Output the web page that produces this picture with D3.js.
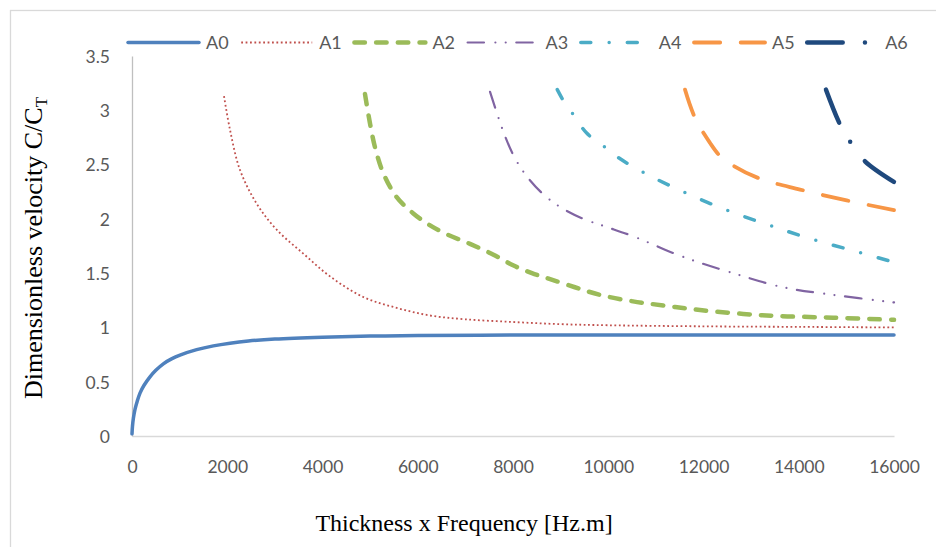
<!DOCTYPE html>
<html>
<head>
<meta charset="utf-8">
<script src="https://cdn.jsdelivr.net/npm/d3@7"></script>
<style>
  html, body { margin: 0; padding: 0; background: #fff; }
  svg { display: block; }
</style>
</head>
<body>
<svg id="chart" width="936" height="547"></svg>
<script>
// ---- data ----
const seriesNames = ["A0", "A1", "A2", "A3", "A4", "A5", "A6"];
const xTicks = [0, 2000, 4000, 6000, 8000, 10000, 12000, 14000, 16000];
const yTicks = [0, 0.5, 1, 1.5, 2, 2.5, 3, 3.5];

const a0X = [0, 10, 30, 63, 110, 168, 250, 378, 500, 658, 830, 1008, 1358, 1708, 2058, 2443, 3000, 4000, 5000, 6000, 8000, 10000, 12000, 14000, 16000];
const a0Y = [0.02, 0.09, 0.165, 0.245, 0.32, 0.395, 0.465, 0.545, 0.605, 0.665, 0.71, 0.745, 0.795, 0.83, 0.855, 0.875, 0.893, 0.91, 0.92, 0.925, 0.93, 0.93, 0.93, 0.93, 0.93];

const a1X = [1932, 2058, 2268, 2618, 3038, 3597, 4158, 4857, 5558, 6257, 7000, 8000, 9000, 10000, 12000, 14000, 16000];
const a1Y = [3.13, 2.82, 2.45, 2.14, 1.90, 1.68, 1.47, 1.28, 1.18, 1.11, 1.075, 1.05, 1.03, 1.02, 1.01, 1.005, 1.0];

const a2X = [4892, 4997, 5102, 5277, 5558, 5907, 6222, 6600, 7097, 7590, 8013, 8397, 8748, 9300, 9827, 10520, 11200, 11927, 13327, 14720, 16000];
const a2Y = [3.15, 2.88, 2.66, 2.42, 2.20, 2.05, 1.95, 1.86, 1.77, 1.67, 1.57, 1.50, 1.45, 1.37, 1.30, 1.24, 1.20, 1.16, 1.11, 1.09, 1.07];

const a3X = [7518, 7643, 7783, 7993, 8241, 8626, 8987, 9477, 9932, 10520, 11570, 12620, 13670, 14720, 16000];
const a3Y = [3.17, 3.0, 2.82, 2.60, 2.42, 2.23, 2.11, 2.0, 1.93, 1.84, 1.65, 1.50, 1.37, 1.30, 1.23];

const a4X = [8930, 9056, 9267, 9547, 9932, 10226, 10730, 11570, 12487, 13396, 14300, 15286, 16000];
const a4Y = [3.19, 3.09, 2.96, 2.79, 2.66, 2.56, 2.43, 2.25, 2.08, 1.94, 1.81, 1.69, 1.60];

const a5X = [11612, 11822, 12136, 12346, 12626, 13186, 14026, 15006, 16000];
const a5Y = [3.19, 2.93, 2.70, 2.58, 2.49, 2.37, 2.27, 2.17, 2.08];

const a6X = [14572, 14887, 15110, 15391, 16000];
const a6Y = [3.19, 2.85, 2.69, 2.53, 2.34];

const xValues = [a0X, a1X, a2X, a3X, a4X, a5X, a6X];
const yValues = [a0Y, a1Y, a2Y, a3Y, a4Y, a5Y, a6Y];

// ---- styles ----
const colors = ["#4F81BD", "#C0504D", "#9BBB59", "#8064A2", "#4BACC6", "#F79646", "#1F497D"];
const widths = [3.5, 1.8, 4.5, 2.2, 3.5, 3.8, 4.5];
const dashes = [null, "1.8,2.6", "10.5,11.2", "16.4,11.4,0,10.3,0,10.6", "10,18.35,0,18.15", "26.2,20.5", "35.5,22.25,0,24.25"];
const caps = ["round", "butt", "round", "round", "round", "round", "round"];

const svg = d3.select("#chart");

const x = d3.scaleLinear().domain([0, 16000]).range([132, 894]);
const y = d3.scaleLinear().domain([0, 3.5]).range([436, 56]);

// outer chart border
svg.append("rect")
  .attr("x", 10.5).attr("y", 10.5).attr("width", 1000).attr("height", 1000)
  .attr("fill", "none").attr("stroke", "#d9d9d9").attr("stroke-width", 1.3);

// axes
const tickFont = "Lato, 'Open Sans', sans-serif";
const xAxis = d3.axisBottom(x).tickValues(xTicks).tickSize(0).tickPadding(0).tickFormat(d3.format("d"));
const gx = svg.append("g").attr("transform", `translate(0,${y(0)})`).call(xAxis);
gx.select(".domain").attr("stroke", "#d9d9d9").attr("stroke-width", 1.5);
gx.selectAll("text")
  .attr("y", 37).attr("dy", null)
  .attr("fill", "#595959").style("font-family", tickFont).style("font-size", "17.5px");

const yAxis = d3.axisLeft(y).tickValues(yTicks).tickSize(0).tickPadding(0).tickFormat(d => String(d));
const gy = svg.append("g").attr("transform", `translate(${x(0)},0)`).call(yAxis);
gy.select(".domain").attr("stroke", "#bfbfbf").attr("stroke-width", 1.3);
gy.selectAll("text")
  .attr("x", -22).attr("dy", "0.36em")
  .attr("fill", "#595959").style("font-family", tickFont).style("font-size", "17.5px");

// series
const line = d3.line().x(d => x(d[0])).y(d => y(d[1])).curve(d3.curveCatmullRom.alpha(0.5));
seriesNames.forEach((name, i) => {
  const pts = xValues[i].map((xv, j) => [xv, yValues[i][j]]);
  svg.append("path")
    .datum(pts)
    .attr("d", line)
    .attr("fill", "none")
    .attr("stroke", colors[i])
    .attr("stroke-width", widths[i])
    .attr("stroke-linecap", caps[i])
    .attr("stroke-linejoin", "round")
    .attr("stroke-dasharray", dashes[i]);
});

// legend
const legend = svg.append("g");
seriesNames.forEach((name, i) => {
  const lx = 128 + i * 113.2;
  legend.append("line")
    .attr("x1", lx).attr("x2", lx + 71).attr("y1", 42.5).attr("y2", 42.5)
    .attr("stroke", colors[i])
    .attr("stroke-width", widths[i])
    .attr("stroke-linecap", caps[i])
    .attr("stroke-dasharray", dashes[i]);
  legend.append("text")
    .attr("x", lx + 78).attr("y", 49)
    .attr("fill", "#595959")
    .style("font-family", tickFont).style("font-size", "18px")
    .text(name);
});

// axis titles
svg.append("text")
  .attr("x", 464).attr("y", 531)
  .attr("text-anchor", "middle")
  .style("font-family", "'Liberation Serif', 'Times New Roman', serif").style("font-size", "24px")
  .attr("fill", "#000")
  .text("Thickness x Frequency [Hz.m]");

const yt = svg.append("text")
  .attr("transform", "translate(42,248) rotate(-90)")
  .attr("text-anchor", "middle")
  .style("font-family", "'Liberation Serif', 'Times New Roman', serif").style("font-size", "26px")
  .attr("fill", "#000");
yt.append("tspan").text("Dimensionless velocity C/C");
yt.append("tspan").attr("dy", 5).style("font-size", "17px").text("T");
</script>
</body>
</html>
